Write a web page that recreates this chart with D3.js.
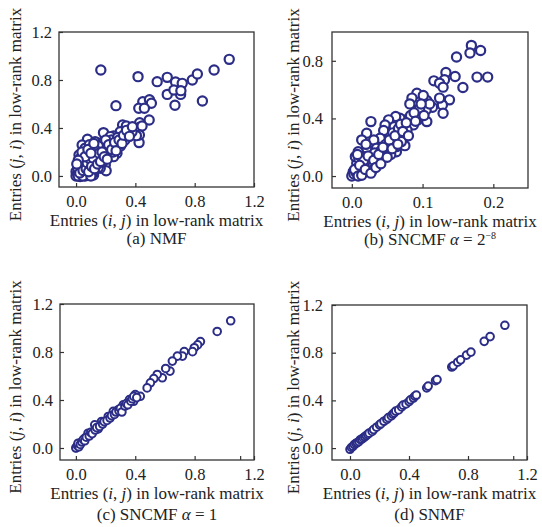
<!DOCTYPE html>
<html>
<head>
<meta charset="utf-8">
<script src="https://cdn.jsdelivr.net/npm/d3@7"></script>
<style>
  body { margin: 0; background: #fff; }
  svg { display: block; }
  text { font-family: "Liberation Serif", "Times New Roman", serif; fill: #222; }
</style>
</head>
<body>
<svg id="chart" width="542" height="527"></svg>
<script>
// ---- data: [entry (i,j), entry (j,i)] ----
const pointsNMF = [
  [1.033,0.972],[0.167,0.883],[0.418,0.828],[0.547,0.786],[0.615,0.822],[0.671,0.783],
  [0.716,0.772],[0.784,0.80],[0.818,0.85],[0.931,0.883],[0.852,0.625],[0.667,0.589],
  [0.615,0.68],[0.705,0.68],[0.66,0.717],[0.707,0.711],[0.269,0.586],[0.45,0.619],
  [0.495,0.636],[0.508,0.606],[0.423,0.564],[0.461,0.564],[0.493,0.467],[0.429,0.444],
  [0.429,0.406],[0.445,0.417],[0.425,0.278],[0.427,0.342],[0.407,0.336],[0.314,0.425],
  [0.339,0.417],[0.353,0.347],[0.321,0.314],[0.377,0.367],[0.298,0.369],[0.253,0.333],
  [0.185,0.361],[0.077,0.306],[0.041,0.258],[0.174,0.272],[0.212,0.258],[0.231,0.328],
  [0.129,0.244],[0.163,0.203],[0.264,0.258],[0.276,0.189],[0.231,0.161],[0.197,0.092],
  [0.203,0.044],[0.14,0.161],[0.084,0.133],[0.02,0.175],[0.027,0.106],[0.05,0.078],
  [0.106,0.092],[0.118,0.008],[0.077,0.022],[0.005,0.008],[0.0,0.036],[0.038,0.05],
  [0.084,0.058],[0.163,0.064],[0.14,0.106],[0.231,0.203],[0.287,0.272],[0.095,0.203],
  [0.061,0.231],[0.129,0.286],[0.185,0.286],[0.208,0.203],[0.253,0.161],[0.027,-0.005],
  [0.061,0.0],[0.0,0.0],[0.01,0.02],[0.02,0.05],[0.03,0.01],[0.04,0.03],[0.05,0.06],
  [0.06,0.02],[0.07,0.04],[0.08,0.01],[0.09,0.03],[0.1,0.06],[0.11,0.02],[0.12,0.04],
  [0.02,0.09],[0.04,0.12],[0.06,0.1],[0.08,0.08],[0.1,0.12],[0.03,0.15],[0.05,0.18],
  [0.07,0.14],[0.09,0.17],[0.12,0.1],[0.14,0.13],[0.15,0.07],[0.13,0.18],[0.16,0.15],
  [0.18,0.12],[0.2,0.18],[0.22,0.22],[0.18,0.24],[0.25,0.2],[0.27,0.24],[0.24,0.3],
  [0.3,0.25],[0.33,0.3],[0.28,0.32],[0.11,0.22],[0.15,0.25],[0.2,0.3],[0.09,0.26],
  [0.015,0.0],[0.035,0.07],[0.055,0.025],[0.065,0.08],[0.045,0.0],[0.1,0.0],
  [0.012,0.065],[0.025,0.025],[0.033,0.09],[0.047,0.045],[0.058,0.13],[0.068,0.06],
  [0.075,0.11],[0.085,0.035],[0.095,0.14],[0.105,0.08],[0.115,0.15],[0.125,0.06],
  [0.135,0.21],[0.145,0.1],[0.155,0.19],[0.165,0.12],[0.175,0.2],[0.19,0.16],
  [0.21,0.14],[0.22,0.26],[0.24,0.22],[0.26,0.28],[0.27,0.21],[0.29,0.3],
  [0.31,0.27],[0.32,0.34],[0.34,0.38],[0.36,0.33],[0.38,0.41],[0.04,0.2],
  [0.06,0.16],[0.08,0.22],[0.1,0.19],[0.12,0.27],[0.015,0.13],[0.005,0.1]
];

const pointsSNCMF8 = [
  [0.169,0.907],[0.182,0.872],[0.167,0.854],[0.148,0.826],[0.177,0.687],[0.192,0.687],
  [0.157,0.615],[0.146,0.691],[0.133,0.719],[0.131,0.668],[0.116,0.661],[0.124,0.645],
  [0.129,0.617],[0.138,0.529],[0.128,0.494],[0.129,0.436],[0.124,0.541],[0.114,0.478],
  [0.106,0.524],[0.092,0.575],[0.101,0.559],[0.085,0.541],[0.082,0.501],[0.105,0.459],
  [0.092,0.455],[0.106,0.378],[0.093,0.39],[0.087,0.355],[0.075,0.39],[0.068,0.401],
  [0.074,0.348],[0.062,0.413],[0.052,0.39],[0.047,0.355],[0.06,0.343],[0.068,0.297],
  [0.075,0.211],[0.063,0.251],[0.054,0.274],[0.045,0.316],[0.04,0.262],[0.027,0.378],
  [0.021,0.297],[0.014,0.251],[0.031,0.251],[0.021,0.193],[0.009,0.169],[0.035,0.193],
  [0.049,0.181],[0.063,0.169],[0.007,0.088],[0.019,0.095],[0.028,0.123],[0.038,0.111],
  [0.045,0.158],[0.007,0.053],[0.002,0.03],[0.001,0.007],[0.012,0.042],[0.021,0.065],
  [0.005,0.135],[0.014,0.135],[0.063,0.204],[0.073,0.274],[0.052,0.227],[0.07,0.239],
  [0.0,0.0],[0.003,0.015],[0.006,0.025],[0.01,0.01],[0.012,0.06],[0.016,0.03],
  [0.018,0.08],[0.024,0.05],[0.026,0.1],[0.03,0.07],[0.033,0.14],[0.036,0.09],
  [0.04,0.17],[0.042,0.12],[0.048,0.22],[0.055,0.15],[0.058,0.3],[0.066,0.33],
  [0.078,0.32],[0.083,0.42],[0.096,0.47],[0.11,0.5],[0.02,0.22],[0.01,0.12],
  [0.004,0.045],[0.009,0.0],[0.015,0.02],[0.017,0.11],[0.029,0.04],[0.032,0.16],
  [0.011,0.075],[0.014,0.005],[0.019,0.045],[0.023,0.14],[0.027,0.02],[0.031,0.11],
  [0.034,0.06],[0.038,0.15],[0.041,0.085],[0.044,0.2],[0.05,0.13],[0.053,0.25],
  [0.057,0.19],[0.061,0.28],[0.065,0.22],[0.069,0.36],[0.072,0.31],[0.077,0.37],
  [0.08,0.28],[0.088,0.44],[0.09,0.38],[0.098,0.5],[0.102,0.42],[0.008,0.15]
];

const pointsSNCMF1 = [
  [1.043,1.06],[0.952,0.971],[0.839,0.887],[0.82,0.859],[0.798,0.836],[0.786,0.803],
  [0.73,0.803],[0.718,0.766],[0.684,0.766],[0.65,0.724],[0.634,0.641],[0.605,0.663],
  [0.582,0.585],[0.548,0.613],[0.525,0.579],[0.502,0.543],[0.48,0.501],[0.434,0.431],
  [0.40,0.445],[0.389,0.389],[0.361,0.403],[0.32,0.361],[0.286,0.319],[0.252,0.305],
  [0.218,0.263],[0.173,0.221],[0.15,0.159],[0.127,0.193],[0.082,0.123],[0.059,0.081],
  [0.025,0.039],[0.002,0.003],[0.0,0.0],[0.01,0.02],[0.02,0.01],[0.015,0.04],
  [0.03,0.03],[0.04,0.05],[0.05,0.07],[0.06,0.06],[0.07,0.09],[0.09,0.1],[0.1,0.13],
  [0.11,0.12],[0.13,0.15],[0.14,0.17],[0.16,0.18],[0.18,0.2],[0.19,0.22],[0.21,0.23],
  [0.23,0.25],[0.24,0.27],[0.26,0.28],[0.27,0.3],[0.29,0.31],[0.3,0.33],[0.31,0.3],
  [0.33,0.35],[0.34,0.37],[0.35,0.36],[0.37,0.39],[0.38,0.41],[0.39,0.43],[0.41,0.42]
];

const pointsSNMF = [
  [0.0,-0.01],[0.01,0.005],[0.02,0.015],[0.03,0.03],[0.04,0.04],[0.05,0.045],
  [0.06,0.055],[0.07,0.07],[0.08,0.075],[0.09,0.085],[0.1,0.095],[0.11,0.105],
  [0.12,0.115],[0.13,0.125],[0.15,0.14],[0.16,0.155],[0.18,0.175],[0.2,0.195],
  [0.21,0.205],[0.23,0.225],[0.25,0.24],[0.26,0.255],[0.28,0.27],[0.29,0.285],
  [0.3,0.295],[0.31,0.31],[0.33,0.32],[0.35,0.345],[0.36,0.36],[0.38,0.37],
  [0.4,0.39],[0.41,0.405],[0.43,0.42],[0.44,0.435],[0.45,0.445],[0.52,0.505],
  [0.53,0.52],[0.58,0.565],[0.59,0.575],[0.69,0.68],[0.7,0.69],[0.73,0.72],
  [0.75,0.74],[0.79,0.78],[0.82,0.805],[0.91,0.895],[0.95,0.935],[1.05,1.03]
];

const ticksWide = [0, 0.4, 0.8, 1.2];
const ticksNarrowX = [0, 0.1, 0.2];
const ticksNarrowY = [0, 0.4, 0.8];
const extraTickC = [1.11];

const svg = d3.select("#chart");
const navy = "#2b2d86";

const panels = [
  { data: pointsNMF, left: 59, right: 254, top: 32, bottom: 187,
    xDomain: [-0.115, 1.2], yDomain: [-0.092, 1.2], xTicks: ticksWide, yTicks: ticksWide,
    r: 4.6, sw: 2.2, caption: "a", yTitleX: 21, yPad: 7, captionDy: 57 },
  { data: pointsSNCMF8, left: 332, right: 528, top: 32, bottom: 188,
    xDomain: [-0.028, 0.249], yDomain: [-0.083, 1.0], xTicks: ticksNarrowX, yTicks: ticksNarrowY,
    r: 4.6, sw: 2.2, caption: "b", yTitleX: 299, yPad: 9, captionDy: 57 },
  { data: pointsSNCMF1, left: 60, right: 254, top: 304, bottom: 460,
    xDomain: [-0.107, 1.2], yDomain: [-0.1, 1.2], xTicks: ticksWide, yTicks: ticksWide,
    r: 3.8, sw: 2, caption: "c", yTitleX: 21, yPad: 7, captionDy: 60, extra: extraTickC },
  { data: pointsSNMF, left: 332, right: 527, top: 305, bottom: 460,
    xDomain: [-0.122, 1.2], yDomain: [-0.1, 1.2], xTicks: ticksWide, yTicks: ticksWide,
    r: 3.8, sw: 2, caption: "d", yTitleX: 299, yPad: 9, captionDy: 60, extra: extraTickC }
];

function axisTitle(t, first, second) {
  t.append("tspan").text("Entries (");
  t.append("tspan").attr("font-style", "italic").text(first);
  t.append("tspan").text(", ");
  t.append("tspan").attr("font-style", "italic").text(second);
  t.append("tspan").text(") in low-rank matrix");
}

panels.forEach(p => {
  const x = d3.scaleLinear().domain(p.xDomain).range([p.left, p.right]);
  const y = d3.scaleLinear().domain(p.yDomain).range([p.bottom, p.top]);
  const g = svg.append("g");

  const xa = g.append("g")
    .attr("transform", `translate(0,${p.bottom})`)
    .call(d3.axisBottom(x).tickValues(p.xTicks).tickFormat(d3.format(".1f"))
      .tickSizeInner(-4).tickSizeOuter(0).tickPadding(8));
  const ya = g.append("g")
    .attr("transform", `translate(${p.left},0)`)
    .call(d3.axisLeft(y).tickValues(p.yTicks).tickFormat(d3.format(".1f"))
      .tickSizeInner(-4).tickSizeOuter(0).tickPadding(p.yPad));
  [xa, ya].forEach(a => {
    a.select(".domain").remove();
    a.selectAll("line").attr("stroke", "#333").attr("stroke-width", 1.2);
    a.selectAll("text").attr("font-size", 16.5).attr("fill", "#222");
  });
  if (p.extra) {
    g.selectAll(".extra").data(p.extra).join("line")
      .attr("x1", d => x(d)).attr("x2", d => x(d))
      .attr("y1", p.bottom).attr("y2", p.bottom - 4)
      .attr("stroke", "#333").attr("stroke-width", 1.2);
  }

  g.append("rect")
    .attr("x", p.left).attr("y", p.top)
    .attr("width", p.right - p.left).attr("height", p.bottom - p.top)
    .attr("fill", "none").attr("stroke", "#333").attr("stroke-width", 1.3);

  g.append("g").selectAll("circle").data(p.data).join("circle")
    .attr("cx", d => x(d[0])).attr("cy", d => y(d[1]))
    .attr("r", p.r).attr("fill", "#fff")
    .attr("stroke", navy).attr("stroke-width", p.sw);

  const cx = (p.left + p.right) / 2;
  const xt = g.append("text").attr("x", cx).attr("y", p.bottom + 38.5)
    .attr("text-anchor", "middle").attr("font-size", 17);
  axisTitle(xt, "i", "j");

  const cy = (p.top + p.bottom) / 2 + 5;
  const yt = g.append("text")
    .attr("transform", `translate(${p.yTitleX},${cy}) rotate(-90)`)
    .attr("text-anchor", "middle").attr("font-size", 17);
  axisTitle(yt, "j", "i");

  const cap = g.append("text").attr("x", cx).attr("y", p.bottom + p.captionDy)
    .attr("text-anchor", "middle").attr("font-size", 17);
  if (p.caption === "b") {
    cap.append("tspan").text("(b) SNCMF ");
    cap.append("tspan").attr("font-style", "italic").text("α");
    cap.append("tspan").text(" = 2");
    cap.append("tspan").attr("font-size", 10).attr("dy", -6).text("−8");
  } else if (p.caption === "c") {
    cap.append("tspan").text("(c) SNCMF ");
    cap.append("tspan").attr("font-style", "italic").text("α");
    cap.append("tspan").text(" = 1");
  } else if (p.caption === "a") {
    cap.text("(a) NMF");
  } else {
    cap.text("(d) SNMF");
  }
});
</script>
</body>
</html>
